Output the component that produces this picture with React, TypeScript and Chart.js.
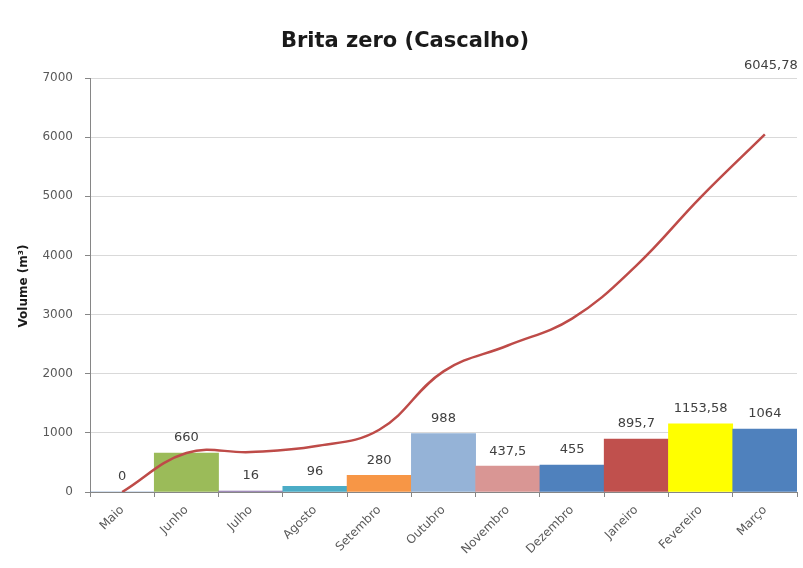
import React, { useEffect, useRef } from "react";
import { Chart, registerables } from "chart.js";

Chart.register(...registerables);

const months = ["Maio", "Junho", "Julho", "Agosto", "Setembro", "Outubro", "Novembro", "Dezembro", "Janeiro", "Fevereiro", "Março"];
const monthlyVolume = [0, 660, 16, 96, 280, 988, 437.5, 455, 895.7, 1153.58, 1064];
const cumulativeVolume = [0, 660, 676, 772, 1052, 2040, 2477.5, 2932.5, 3828.2, 4981.78, 6045.78];
const barColors = ["#4F81BD", "#9BBB59", "#8064A2", "#4BACC6", "#F79646", "#95B3D7", "#D99694", "#4F81BD", "#C0504D", "#FFFF00", "#4F81BD"];
const yMin = 0;
const yMax = 7000;
const yStep = 1000;

const chartTitle = "Brita zero (Cascalho)";
const yTitle = "Volume (m³)";

const fmt = (v: number) => String(v).replace(".", ",");

const FONT = "'DejaVu Sans', sans-serif";

const labelsPlugin = {
  id: "customLabels",
  afterDraw(chart: any) {
    const ctx = chart.ctx;
    ctx.save();
    // title
    ctx.fillStyle = "#1a1a1a";
    ctx.font = `bold 21px ${FONT}`;
    ctx.textAlign = "center";
    ctx.textBaseline = "alphabetic";
    ctx.fillText(chartTitle, 405, 47);

    // y axis title
    ctx.save();
    ctx.translate(24, 286);
    ctx.rotate(-Math.PI / 2);
    ctx.font = `bold 12px ${FONT}`;
    ctx.textBaseline = "middle";
    ctx.fillText(yTitle, 0, 0);
    ctx.restore();

    // bar labels
    ctx.fillStyle = "#404040";
    ctx.font = `13px ${FONT}`;
    ctx.textAlign = "center";
    ctx.textBaseline = "middle";
    const barMeta = chart.getDatasetMeta(0);
    barMeta.data.forEach((el: any, i: number) => {
      ctx.fillText(fmt(monthlyVolume[i]), el.x, el.y - 15);
    });
    // last line label
    const lineMeta = chart.getDatasetMeta(1);
    const last = lineMeta.data[lineMeta.data.length - 1];
    if (last) {
      ctx.fillText(fmt(cumulativeVolume[cumulativeVolume.length - 1]), last.x + 6, last.y - 69);
    }
    ctx.restore();
  },
};

export default function App() {
  const ref = useRef<HTMLCanvasElement>(null);
  useEffect(() => {
    document.body.style.margin = "0";
    const chart = new Chart(ref.current!, {
      type: "bar",
      data: {
        labels: months,
        datasets: [
          {
            type: "bar",
            label: "Mensal",
            data: monthlyVolume,
            backgroundColor: barColors,
            barPercentage: 1,
            categoryPercentage: 1,
            order: 2,
          } as any,
          {
            type: "line",
            label: "Acumulado",
            data: cumulativeVolume,
            borderColor: "#BE4B48",
            borderWidth: 2.5,
            pointRadius: 0,
            tension: 0.4,
            fill: false,
            order: 1,
          } as any,
        ],
      },
      options: {
        animation: false,
        responsive: false,
        layout: { padding: { top: 78, right: 6, left: 0, bottom: 0 } },
        plugins: {
          legend: { display: false },
          title: { display: false },
          tooltip: { enabled: false },
        },
        scales: {
          x: {
            grid: {
              display: true,
              drawOnChartArea: false,
              offset: true,
              tickLength: 5,
              tickColor: "#868686",
            },
            border: { display: true, color: "#868686" },
            ticks: {
              maxRotation: 45,
              minRotation: 45,
              padding: 6,
              color: "#595959",
              font: { family: FONT, size: 12 },
            },
            afterFit(scale: any) {
              scale.height = 76;
            },
          },
          y: {
            min: yMin,
            max: yMax,
            ticks: {
              stepSize: yStep,
              padding: 12,
              color: "#595959",
              font: { family: FONT, size: 12 },
              callback: (value: any) => String(value),
            },
            grid: {
              color: "#D9D9D9",
              tickLength: 5,
              tickColor: "#868686",
            },
            border: { display: true, color: "#868686" },
            afterFit(scale: any) {
              scale.width = 90;
            },
          },
        },
      },
      plugins: [labelsPlugin],
    });
    return () => chart.destroy();
  }, []);
  return (
    <div style={{ width: 803, height: 568, background: "#fff" }}>
      <canvas ref={ref} width={803} height={568} />
    </div>
  );
}
